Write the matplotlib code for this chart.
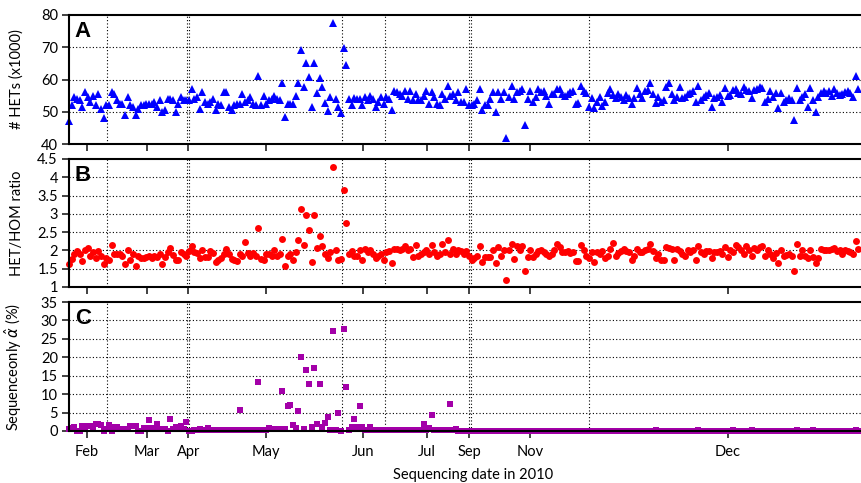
import numpy as np
import matplotlib.pyplot as plt

plt.rcParams['font.family'] = ['Lato', 'DejaVu Sans']
plt.rcParams['mathtext.fontset'] = 'dejavusans'

# per-sample values, in sequencing order
hets = [
    47, 52, 54.5, 54, 53.5, 51.5, 56, 54.5, 53, 55,
    52, 55.5, 51, 48, 52, 52, 56, 55.5, 53.5, 52.5,
    52.5, 49, 54.5, 52, 51.5, 49, 51, 52, 52, 52.5,
    52.5, 52.5, 53, 51.5, 53.5, 50, 50.5, 54, 54, 53.5,
    50, 52.5, 54.5, 53.5, 53.5, 53.5, 57, 54, 54.5, 51,
    56, 53, 52.5, 53, 54, 50.5, 52.5, 52, 56, 56,
    51.5, 50.5, 52, 52.5, 52.5, 55.5, 53, 53.5, 54.5, 52.5,
    52, 61, 52, 55, 52.5, 53.5, 54, 55, 54, 53.5,
    59, 48.5, 52.5, 52.5, 52.5, 55, 59,
    69.2, 57.6, 65, 60.9, 51.4, 65, 55.7, 60.6, 57.6, 52.6,
    50.2, 54.5, 77.4, 54.1, 51.6, 49.7, 69.9, 64.5, 53.9, 52,
    54.4, 54, 54, 52, 54.5, 53.5, 55, 54, 51.5, 53,
    54.5, 52.5, 54.5, 54, 50.5, 56.5, 56, 55.5, 55, 56.5,
    54, 56.5, 53.5, 55.5, 53.5, 53.5, 55, 56.5, 52.5, 56,
    54.5, 52.5, 52, 55.5, 54, 58, 55, 55.5, 53.5, 56,
    53, 53, 57, 52, 52, 52.5, 53.5, 57, 50.5, 52,
    52, 54, 56, 50, 56, 54, 56, 42, 54.5, 58,
    54, 56, 56.5, 57, 46, 54, 56.5, 53, 54.5, 57,
    56, 56.5, 55, 52.5, 55.5, 55.5, 57, 57, 55.5, 55,
    55.5, 56, 56.5, 52.5,
    52.8, 58.0, 56.5, 55.7, 51.4, 54.4, 51.1, 53.1, 54.7, 51.8,
    53.1, 55.7, 57.0, 55.2, 54.2, 55.4, 54.7, 53.7, 55.2, 54.2,
    52.4, 54.2, 57.3, 55.5, 54.2, 56.5, 56.8, 58.8, 55.5, 52.6,
    54.5, 53.1, 53.7, 57.6, 58.8, 55.5, 53.7, 54.7, 57.8, 54.2,
    54.7, 55.5, 55.9, 56.5, 53.1, 58.0, 53.7, 54.5, 55.2, 55.9,
    51.4, 54.2, 54.7, 55.2, 53.1, 57.3, 54.9, 55.2, 56.8, 57.0,
    55.9, 55.5, 57.6, 56.8, 56.5, 54.2, 56.8, 57.0, 57.6, 57.3,
    53.1, 53.9, 56.5, 54.7, 55.7, 51.1, 55.9, 53.1, 53.7, 54.2,
    53.7, 47.5, 57.3, 53.7, 54.7, 55.5, 51.6, 57.3, 53.7, 50.0,
    54.7, 55.7, 56.5, 55.9, 56.5, 54.9, 57.0, 55.9, 55.2, 55.5,
    56.2, 56.5, 55.7, 54.7, 61.1, 57.0,
]

ratio = [
    1.62, 1.76, 1.9, 1.99, 1.9, 1.7, 2.02, 2.06, 1.84, 1.95,
    1.80, 1.99, 1.86, 1.62, 1.78, 1.75, 2.15, 1.9, 1.9, 1.91,
    1.86, 1.64, 2.0, 1.75, 1.9, 1.58, 1.84, 1.80, 1.78, 1.82,
    1.86, 1.80, 1.86, 1.82, 1.9, 1.64, 1.82, 1.96, 2.06, 1.88,
    1.75, 1.75, 1.96, 1.9, 1.86, 1.99, 2.11, 1.95, 1.93, 1.78,
    2.02, 1.82, 1.82, 1.99, 1.93, 1.68, 1.75, 1.80, 1.91, 2.04,
    1.9, 1.77, 1.75, 1.71, 1.91, 1.86, 2.24, 1.93, 1.84, 1.93,
    1.84, 2.62, 1.77, 1.75, 1.9, 1.9, 1.86, 2.0, 1.86, 1.9,
    2.30, 1.58, 1.86, 1.9, 1.73, 1.95, 2.28,
    3.14, 2.16, 2.96, 2.57, 1.68, 2.96, 2.06, 2.39, 2.11, 1.9,
    1.78, 1.96, 4.29, 2.02, 1.75, 1.77, 3.65, 2.76, 1.91, 1.99,
    1.86, 1.86, 2.02, 1.73, 2.04, 1.95, 2.02, 1.9, 1.78, 1.86,
    1.9, 1.73, 1.95, 1.99, 1.66, 2.04, 2.04, 2.0, 2.04, 2.11,
    2.02, 2.04, 1.82, 2.15, 1.86, 1.9, 1.96, 2.02, 1.9, 2.15,
    1.96, 1.84, 1.9, 2.17, 1.96, 2.28, 1.91, 2.04, 1.9, 2.02,
    1.99, 1.9, 1.99, 1.84, 1.73, 1.80, 1.86, 2.11, 1.68, 1.82,
    1.82, 1.82, 2.02, 1.66, 2.10, 1.84, 2.0, 1.18, 2.02, 2.17,
    1.77, 2.13, 2.02, 2.13, 1.43, 1.82, 2.02, 1.82, 1.91, 1.99,
    2.02, 1.95, 1.91, 1.86, 1.9, 2.02, 2.17, 2.10, 1.96, 1.95,
    1.99, 1.93, 1.96, 1.71,
    1.70, 2.14, 2.02, 1.84, 1.78, 1.96, 1.68, 1.96, 1.9, 1.99,
    1.78, 1.84, 2.05, 2.19, 1.84, 1.93, 1.99, 2.05, 1.99, 1.96,
    1.75, 1.84, 2.05, 1.96, 1.96, 2.0, 2.05, 2.17, 1.99, 1.80,
    1.9, 1.75, 1.75, 2.10, 2.08, 2.05, 1.75, 2.05, 1.99, 1.91,
    1.86, 2.02, 1.96, 2.02, 1.73, 2.11, 1.96, 1.9, 1.99, 1.99,
    1.78, 1.96, 1.96, 1.99, 1.9, 2.10, 1.82, 2.02, 1.96, 2.14,
    2.10, 2.02, 1.91, 2.11, 2.02, 1.84, 2.08, 2.0, 2.10, 2.11,
    1.84, 2.0, 1.9, 1.78, 1.93, 1.66, 2.02, 1.84, 1.87, 1.9,
    1.84, 1.44, 2.17, 1.86, 2.02, 1.84, 1.78, 2.02, 1.82, 1.66,
    1.78, 2.05, 2.02, 2.02, 2.0, 2.05, 2.08, 1.99, 2.02, 1.91,
    2.02, 1.99, 1.96, 1.9, 2.26, 2.05,
]

alpha = [
    0.5, 0.8, 1.1, 0, 0, 1.3, 1.1, 1.3, 1.3, 1.1,
    1.8, 1.8, 1.5, 0, 0.5, 1.5, 0, 1.1, 1.1, 0.5,
    0.5, 0.5, 0.5, 1.3, 1.3, 1.3, 0, 0, 0.7, 0.7,
    2.9, 0.7, 0.5, 1.8, 0.5, 0.5, 0.5, 0, 3.3, 0.5,
    1.1, 0.5, 1.3, 0.5, 2.5, 0,
    0, 0.2, 0.2, 0.5, 0.2, 0.2, 0.8, 0.2, 0.2, 0.2,
    0.2, 0.2, 0.2, 0.2, 0.2, 0.2, 0.2, 0.2, 5.8, 0.2,
    0.2, 0.2, 0.2, 0.2, 0.2, 13.3, 0.2, 0.2, 0.2, 0.8,
    0.5, 0.5, 0.5, 0.5, 10.8, 0.5, 6.7, 7.0, 1.5, 0.8, 5.4,
    20.2, 0.6, 16.5, 12.7, 1.1, 17.0, 1.8, 12.7, 1.1, 2.2,
    3.8, 0.4, 27.0, 0.4, 4.9, 0, 27.7, 12.0, 0.4, 1.1,
    3.3, 1.1, 6.7, 1.1,
    0.4, 0.4, 1.1, 0.4, 0.3, 0.3, 0.3, 0.3, 0.3, 0.3,
    0.3, 0.3, 0.3, 0.3, 0.3, 0.3, 0.3, 0.3, 0.3, 0.3,
    0.3, 0.3, 1.8, 0.3, 0.8, 4.4, 0.3, 0.3, 0.3, 0.3,
    0.3, 0.3, 7.3, 0.3, 0.5, 0, 0, 0, 0, 0,
    0, 0, 0, 0, 0, 0, 0, 0, 0, 0,
    0, 0, 0, 0, 0, 0, 0, 0, 0, 0,
    0, 0, 0, 0, 0, 0, 0, 0, 0, 0,
    0, 0, 0, 0, 0, 0, 0, 0, 0, 0,
    0, 0, 0, 0, 0, 0, 0, 0, 0, 0,
    0, 0, 0, 0, 0, 0, 0, 0, 0, 0,
    0, 0, 0, 0, 0, 0, 0, 0, 0, 0.4,
    0, 0, 0, 0, 0, 0, 0, 0, 0, 0,
    0, 0, 0, 0, 0, 0.4, 0, 0, 0, 0,
    0, 0, 0, 0, 0, 0, 0, 0, 0.4, 0,
    0, 0, 0, 0, 0, 0.4, 0, 0, 0, 0,
    0, 0, 0, 0, 0, 0, 0, 0, 0, 0,
    0, 0, 0.4, 0, 0, 0, 0, 0, 0.4, 0,
    0, 0, 0, 0, 0, 0, 0, 0, 0, 0,
    0, 0, 0, 0, 0.4, 0,
]

# month starts (sample index) and sequencing-run boundaries
month_labels = ['Feb', 'Mar', 'Apr', 'May', 'Jun', 'Jul', 'Sep', 'Nov', 'Dec']
month_pos = [6.75, 29.25, 44.7, 73.9, 110.2, 134.2, 150.0, 172.9, 247.1]
run_breaks = [14.25, 44.4, 45.0, 102.4, 118.5, 149.9, 150.6, 195.0]

W, H = 861, 483
fig = plt.figure(figsize=(W / 100, H / 100), dpi=100)

def panel(top, bottom):
    return fig.add_axes([69 / W, 1 - bottom / H, (877 - 69) / W, (bottom - top) / H])

axA = panel(15, 144)
axB = panel(159, 287)
axC = panel(302, 431)

dots = (0, (1, 2))
specs = [
    (axA, hets, '^', 'blue', 6.4, (40, 80), np.arange(40, 81, 10), '# HETs (x1000)', 'A'),
    (axB, ratio, 'o', 'red', 5.0, (1, 4.5), np.arange(1, 4.6, 0.5), 'HET/HOM ratio', 'B'),
    (axC, alpha, 's', '#A300A8', 4.6, (0, 35), np.arange(0, 36, 5),
     r'Sequenceonly $\hat{\alpha}$ (%)', 'C'),
]

for ax, vals, mk, col, ms, ylim, yt, ylab, letter in specs:
    x = np.arange(len(vals))
    ax.plot(x, vals, linestyle='none', marker=mk, color=col, markersize=ms,
            markeredgewidth=0, clip_on=False, zorder=2)
    ax.set_xlim(0, (877 - 69) / 2.667)
    ax.set_ylim(*ylim)
    ax.set_yticks(yt)
    ax.set_yticklabels([('%g' % v) for v in yt])
    for v in yt[1:-1]:
        ax.axhline(v, color='black', linestyle=dots, linewidth=0.8, zorder=1)
    for b in run_breaks:
        ax.axvline(b, color='black', linestyle=dots, linewidth=0.8, zorder=1)
    ax.set_xticks(month_pos)
    ax.set_xticklabels(month_labels)
    ax.tick_params(direction='out', length=5, width=1.3, color='#333333',
                   labelsize=10.5, pad=3)
    ax.tick_params(axis='x', pad=5)
    for s in ['top', 'bottom', 'left']:
        ax.spines[s].set_linewidth(1.5)
    ax.spines['right'].set_visible(False)
    ax.set_ylabel(ylab, fontsize=10.5)
    ax.yaxis.set_label_coords(-0.056, 0.5)
    ax.text(0.007, 0.95, letter, transform=ax.transAxes, fontsize=16,
            fontweight='bold', family='Liberation Sans', va='top', ha='left')

axA.tick_params(axis='x', labelbottom=False)
axB.tick_params(axis='x', labelbottom=False)
axC.set_xlabel('Sequencing date in 2010', fontsize=10.5)
axC.xaxis.set_label_coords(0.5, -0.29)

fig.savefig('out.png', dpi=100)
